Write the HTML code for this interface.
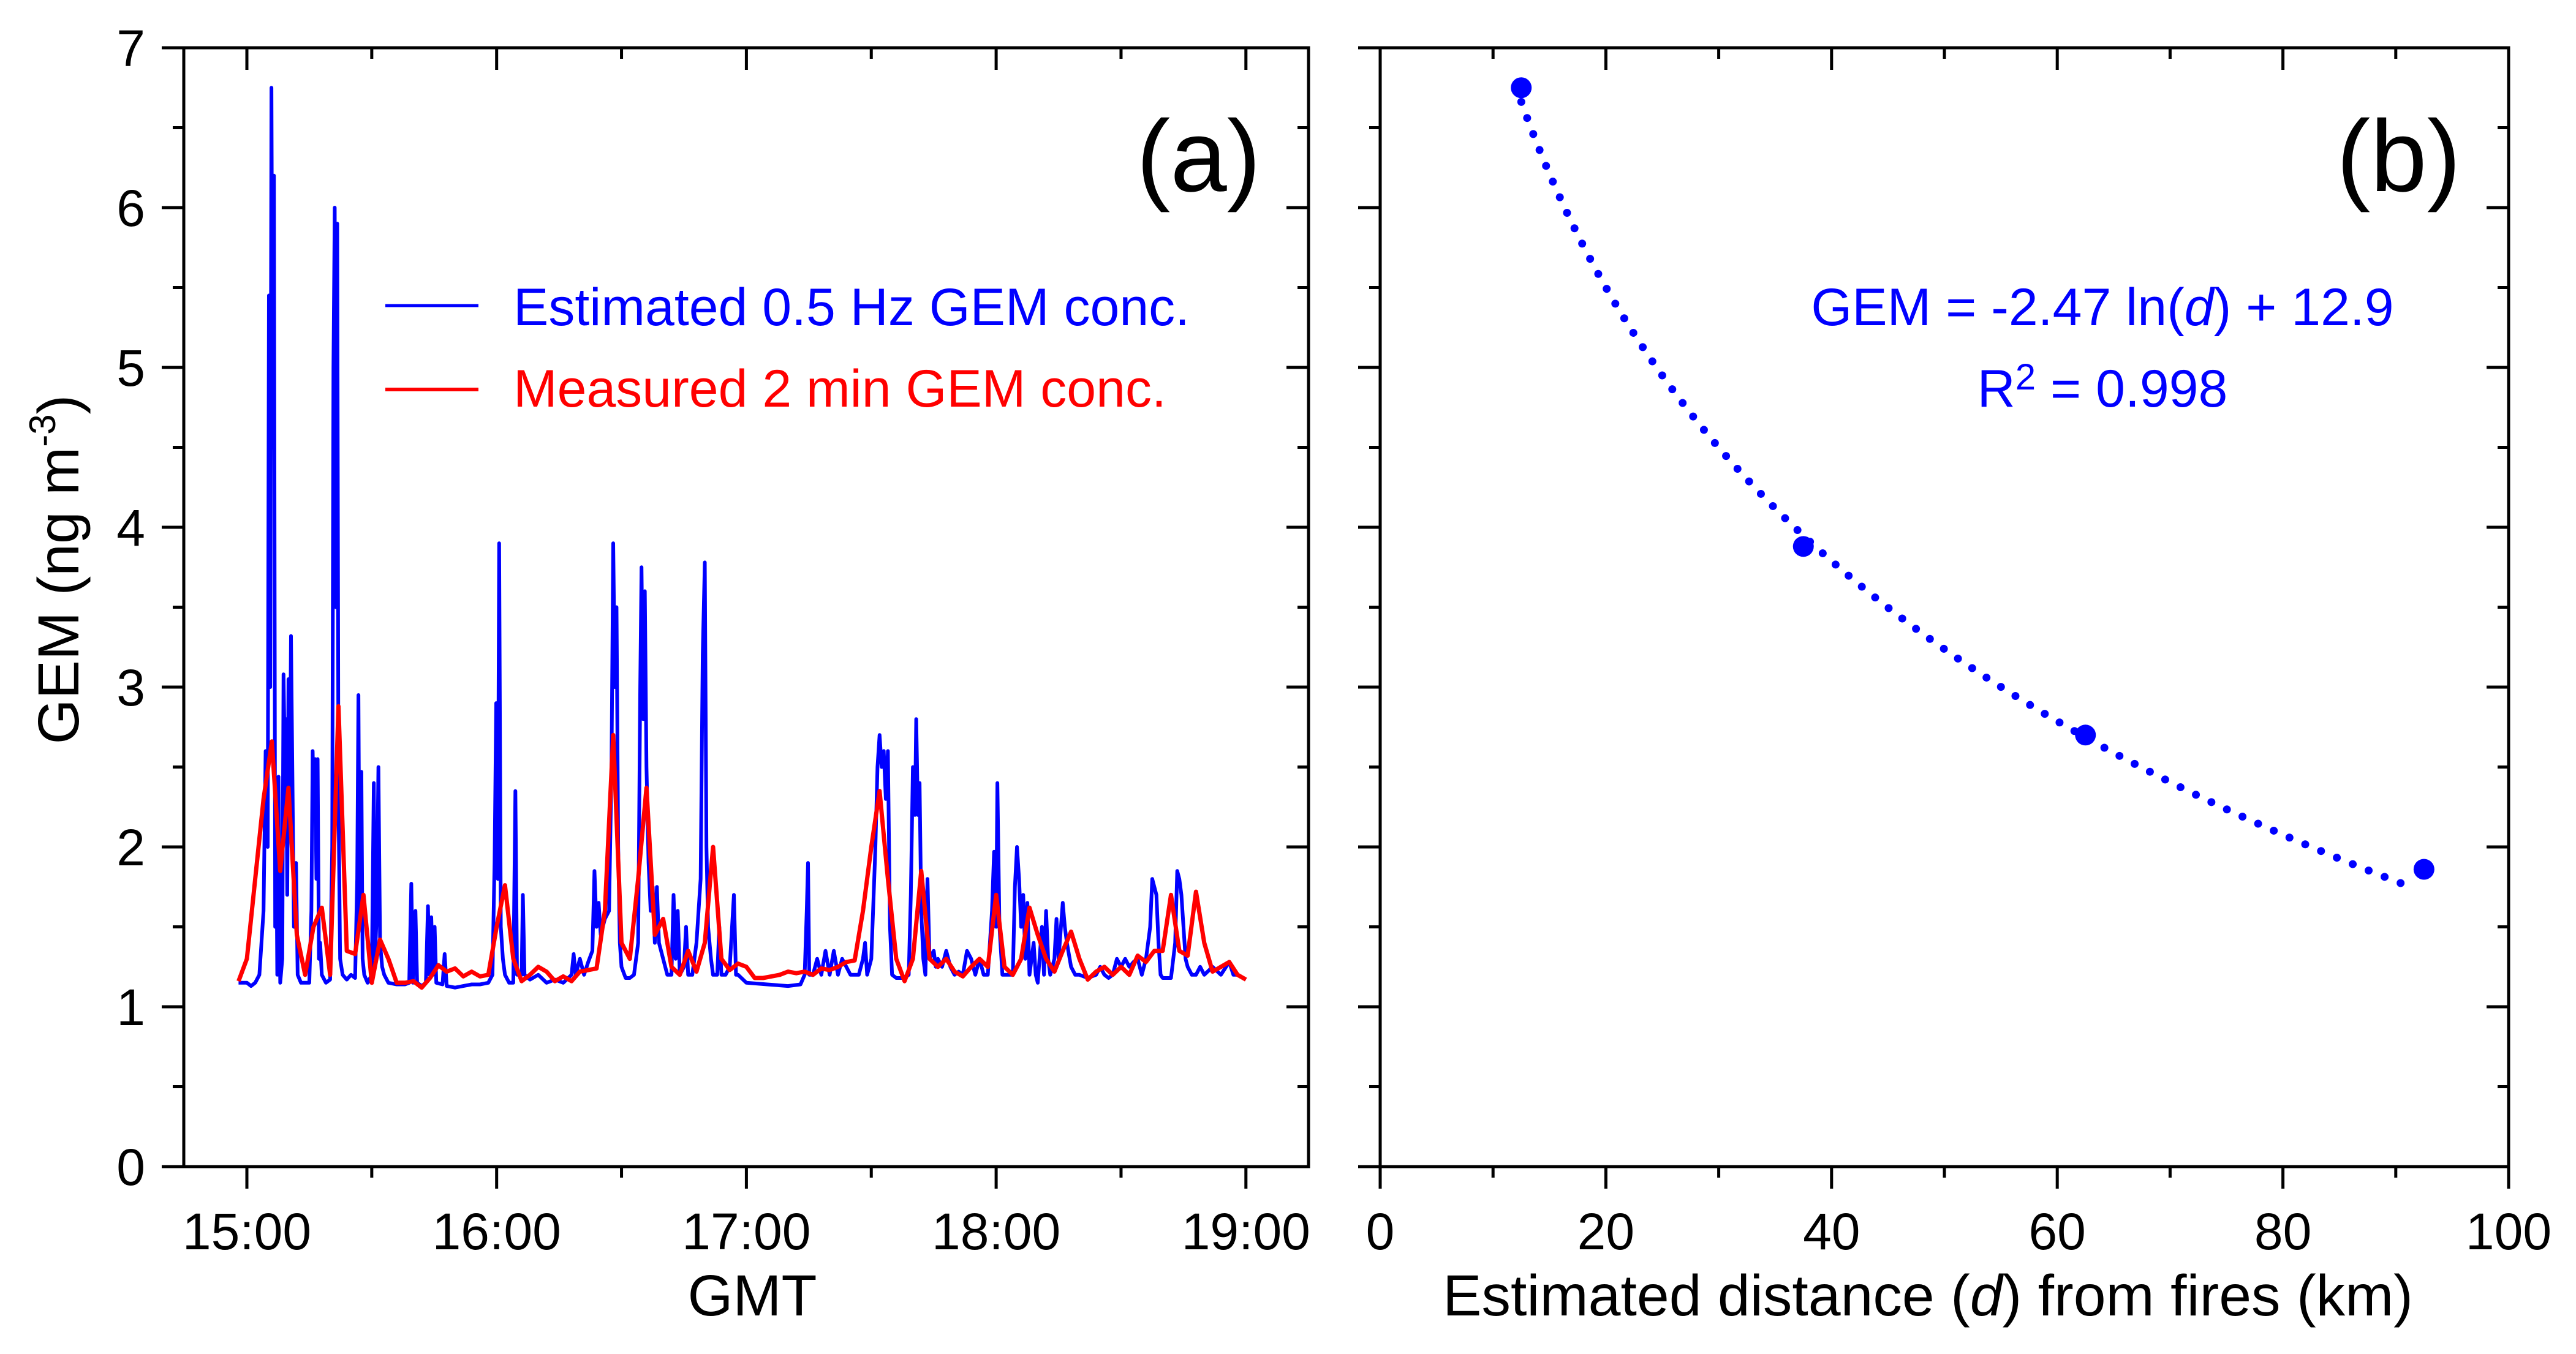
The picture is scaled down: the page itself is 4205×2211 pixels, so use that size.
<!DOCTYPE html>
<html><head><meta charset="utf-8"><title>GEM figure</title>
<style>html,body{margin:0;padding:0;background:#fff}svg{display:block}text{font-family:"Liberation Sans",Arial,sans-serif}</style>
</head><body>
<svg id="fig" xmlns="http://www.w3.org/2000/svg" width="4205" height="2211" viewBox="0 0 4205 2211">
<rect width="4205" height="2211" fill="#fff"/>
<defs><clipPath id="clipA"><rect x="300" y="78" width="1836" height="1827"/></clipPath></defs>
<g id="panelA"></g>
<g id="panelB"></g>
</svg>
<script>
// ---------- Panel (a) data ----------
const redT = [-2,0,2,4,6,8,10,12,14,16,18,20,22,24,26,28,30,32,34,36,38,40,42,44,46,48,50,52,54,56,58,60,62,64,66,68,70,72,74,76,78,80,82,84,86,88,90,92,94,96,98,100,102,104,106,108,110,112,114,116,118,120,122,124,126,128,130,132,134,136,138,140,142,144,146,148,150,152,154,156,158,160,162,164,166,168,170,172,174,176,178,180,182,184,186,188,190,192,194,196,198,200,202,204,206,208,210,212,214,216,218,220,222,224,226,228,230,232,234,236,238,240];
const redV = [1.16,1.3,1.8,2.3,2.66,1.85,2.37,1.45,1.2,1.5,1.62,1.2,2.88,1.35,1.33,1.7,1.15,1.42,1.3,1.15,1.15,1.16,1.12,1.18,1.26,1.22,1.24,1.19,1.22,1.19,1.2,1.5,1.76,1.3,1.16,1.2,1.25,1.22,1.16,1.19,1.16,1.22,1.23,1.24,1.6,2.7,1.4,1.3,1.8,2.37,1.45,1.55,1.25,1.2,1.35,1.22,1.4,2.0,1.3,1.23,1.27,1.25,1.18,1.18,1.19,1.2,1.22,1.21,1.22,1.2,1.24,1.23,1.25,1.28,1.29,1.6,2.0,2.35,1.8,1.3,1.16,1.3,1.85,1.3,1.25,1.3,1.22,1.19,1.25,1.3,1.25,1.7,1.25,1.2,1.3,1.62,1.45,1.3,1.22,1.35,1.47,1.3,1.17,1.22,1.25,1.2,1.25,1.2,1.32,1.28,1.35,1.35,1.7,1.35,1.32,1.72,1.4,1.22,1.25,1.28,1.2,1.17];
const blueT = [-2,0,1,2,3,3.5,4,4.5,5,5.3,5.6,5.9,6.2,6.5,6.8,7,7.3,7.6,8,8.5,8.8,9.1,9.4,9.7,10,10.3,10.6,11,11.3,11.8,12.2,13,14,15,15.5,15.8,16.1,16.4,16.7,17,17.3,17.6,18,19,20,20.5,20.8,21.1,21.4,21.7,22,22.4,23,24,25,26,26.5,26.8,27.1,27.5,27.8,28.2,29,30,30.5,30.8,31.2,31.6,32,32.5,33,34,36,38,39,39.5,39.9,40.5,40.9,42,43,43.5,43.9,44.3,44.7,45.1,45.5,47,47.5,48,50,52,54,56,58,59,59.5,59.9,60.3,60.6,61,61.5,62,63,64,64.5,64.9,66,66.3,66.7,68,70,72,74,76,78,78.5,79,80,81,82,83,83.5,84,84.5,85,86,87,87.6,88,88.4,88.8,89.2,89.6,90,91,92,93,94,94.5,94.8,95.2,95.6,96,96.5,97,97.5,98,98.5,99,100,101,102,102.5,103,103.5,104,105,105.5,106,107,108,109,109.5,110,110.4,110.8,111.5,112,113,113.5,114,115,116,117,117.5,118,120,125,130,133,134,134.5,134.8,135.1,136,137,138,139,140,141,142,143,145,147,148,148.5,149,150,151,151.5,152,152.5,153,153.5,154,154.5,155,156,158,159,159.5,160,160.5,160.8,161.2,161.6,162,162.5,163,163.5,164,165,165.5,166,167,168,169,170,171,172,173,174,175,176,177,178,179,179.5,180,180.3,180.8,181.5,183,184,184.5,185,185.5,186,186.5,187,187.5,188,189,189.5,190,191,191.5,192,192.5,193,194,194.5,195,196,196.5,197,198,199,200,202,204,205,206,207,208,209,210,211,212,213,214,215,216,217,217.5,218,218.5,219,219.5,220,222,223,223.5,224,224.5,225,225.5,226,227,228,229,230,232,234,236,237,238,240];
const blueV = [1.15,1.15,1.13,1.15,1.2,1.4,1.6,2.6,2.0,5.45,3.0,6.75,4.5,6.2,1.5,2.4,1.2,2.44,1.15,1.3,3.08,2.6,2.8,1.7,3.05,2.2,3.32,2.3,1.5,1.9,1.2,1.15,1.15,1.15,1.6,2.6,2.2,2.55,1.8,2.55,1.3,1.4,1.2,1.15,1.17,2.0,5.0,6.0,3.5,5.9,2.3,1.3,1.2,1.17,1.2,1.18,1.8,2.95,1.5,2.47,1.3,1.2,1.15,1.2,2.4,1.3,1.6,2.5,1.4,1.25,1.2,1.15,1.14,1.14,1.15,1.77,1.15,1.6,1.15,1.13,1.15,1.63,1.2,1.56,1.2,1.5,1.15,1.14,1.33,1.13,1.12,1.13,1.14,1.14,1.15,1.2,1.9,2.9,1.8,3.9,1.5,1.3,1.2,1.15,1.15,2.35,1.2,1.2,1.7,1.2,1.17,1.2,1.15,1.17,1.15,1.2,1.33,1.2,1.3,1.2,1.28,1.35,1.85,1.5,1.65,1.45,1.55,1.6,2.5,3.9,3.0,3.5,2.0,1.4,1.25,1.18,1.18,1.2,1.4,3.0,3.75,2.8,3.6,2.5,1.9,1.6,1.75,1.4,1.75,1.4,1.3,1.2,1.2,1.7,1.3,1.6,1.2,1.25,1.5,1.2,1.2,1.4,1.8,3.2,3.78,2.0,1.5,1.3,1.2,1.2,1.5,1.2,1.2,1.25,1.7,1.2,1.2,1.15,1.14,1.13,1.14,1.2,1.6,1.9,1.2,1.2,1.3,1.2,1.35,1.2,1.35,1.2,1.3,1.2,1.2,1.3,1.4,1.2,1.3,2.0,2.5,2.7,2.5,2.6,2.3,2.6,1.5,1.2,1.18,1.18,1.2,1.7,2.5,2.2,2.8,2.2,2.4,1.6,1.3,1.2,1.8,1.3,1.35,1.25,1.3,1.25,1.35,1.25,1.2,1.22,1.2,1.35,1.3,1.2,1.3,1.2,1.2,1.6,1.97,1.5,2.4,1.5,1.2,1.2,1.2,1.75,2.0,1.8,1.5,1.7,1.3,1.65,1.2,1.4,1.2,1.15,1.5,1.2,1.6,1.3,1.2,1.3,1.55,1.3,1.65,1.5,1.4,1.25,1.2,1.2,1.18,1.2,1.25,1.2,1.18,1.2,1.3,1.25,1.3,1.25,1.28,1.3,1.2,1.3,1.5,1.8,1.75,1.7,1.4,1.2,1.18,1.18,1.4,1.85,1.8,1.7,1.5,1.3,1.25,1.2,1.2,1.25,1.2,1.25,1.2,1.28,1.2,1.2,1.17];
const xTickLabelsA = ["15:00","16:00","17:00","18:00","19:00"];
const yTickLabels = ["0","1","2","3","4","5","6","7"];
// ---------- Panel (b) data ----------
const distKm = [12.5, 37.5, 62.5, 92.5];
const gemB = [6.75, 3.88, 2.70, 1.86];
const fitSlope = -2.47;
const fitIntercept = 12.9;
const xTickLabelsB = ["0","20","40","60","80","100"];

const NS = "http://www.w3.org/2000/svg";
function mk(tag, attrs, parent, txt){
  const e = document.createElementNS(NS, tag);
  for (const k in attrs) e.setAttribute(k, attrs[k]);
  if (txt !== undefined) e.textContent = txt;
  parent.appendChild(e); return e;
}
const Y0 = 1905, YU = 261.0;
function yv(v){ return Y0 - v*YU; }
const AX = {l:300, r:2136, t:78, b:1905};
function xa(min){ return 403 + min*6.795; }
const BX = {l:2253, r:4095, t:78, b:1905};
function xb(d){ return BX.l + d*(BX.r-BX.l)/100; }

const gA = document.getElementById('panelA');
const gB = document.getElementById('panelB');

function frame(g, P, xMajors, xMinors, labels, nameP){
  const fr = mk('rect',{x:P.l,y:P.t,width:P.r-P.l,height:P.b-P.t,fill:'none',stroke:'#000','stroke-width':5},g);
  
  
  for (let v=0; v<=7; v+=0.5){
    const L = (v%1===0)?36:18, y=yv(v);
    mk('line',{x1:P.l-L,y1:y,x2:P.l,y2:y,stroke:'#000','stroke-width':5},g);
    mk('line',{x1:P.r-L,y1:y,x2:P.r,y2:y,stroke:'#000','stroke-width':5},g);
  }
  xMajors.forEach((x,i)=>{
    mk('line',{x1:x,y1:P.b,x2:x,y2:P.b+36,stroke:'#000','stroke-width':5},g);
    mk('line',{x1:x,y1:P.t,x2:x,y2:P.t+36,stroke:'#000','stroke-width':5},g);
    const t = mk('text',{x:x,y:2040,'font-size':84,'text-anchor':'middle',fill:'#000'},g,labels[i]);
    
    
  });
  xMinors.forEach(x=>{
    mk('line',{x1:x,y1:P.b,x2:x,y2:P.b+18,stroke:'#000','stroke-width':5},g);
    mk('line',{x1:x,y1:P.t,x2:x,y2:P.t+18,stroke:'#000','stroke-width':5},g);
  });
}

// ---- Panel A ----
const majA = xTickLabelsA.map((s,i)=>xa(i*60));
const minA = xTickLabelsA.slice(0,-1).map((s,i)=>xa(i*60+30));
frame(gA, AX, majA, minA, xTickLabelsA, 'panel-a');
yTickLabels.forEach((s,i)=>{
  const t = mk('text',{x:237,y:yv(+s)+30,'font-size':84,'text-anchor':'end',fill:'#000'},gA,s);
  
  
});
const plotA = mk('g',{'clip-path':'url(#clipA)'},gA);
let dB = blueT.map((t,i)=>(i?'L':'M')+xa(t).toFixed(1)+' '+yv(blueV[i]).toFixed(1)).join(' ');
const blueLine = mk('path',{d:dB,fill:'none',stroke:'#0000ff','stroke-width':6,'stroke-linejoin':'round'},plotA);


let dR = redT.map((t,i)=>(i?'L':'M')+xa(t).toFixed(1)+' '+yv(redV[i]).toFixed(1)).join(' ');
const redLine = mk('path',{d:dR,fill:'none',stroke:'#ff0000','stroke-width':7,'stroke-linejoin':'round'},plotA);


const lg = mk('g',{},gA);


mk('line',{x1:629,y1:499,x2:781,y2:499,stroke:'#0000ff','stroke-width':5},lg);
const l1 = mk('text',{x:838,y:531,'font-size':86,fill:'#0000ff'},lg,'Estimated 0.5 Hz GEM conc.');


mk('line',{x1:629,y1:636,x2:781,y2:636,stroke:'#ff0000','stroke-width':6},lg);
const l2 = mk('text',{x:838,y:664,'font-size':86,fill:'#ff0000'},lg,'Measured 2 min GEM conc.');


const pa = mk('text',{x:2058,y:312,'font-size':166,'text-anchor':'end',fill:'#000'},gA,'(a)');


const gmt = mk('text',{x:1228,y:2148,'font-size':95,'text-anchor':'middle',fill:'#000'},gA,'GMT');


const yt = mk('text',{x:0,y:0,'font-size':95,'text-anchor':'middle',fill:'#000',transform:'translate(128,930) rotate(-90)'},gA);


yt.innerHTML = 'GEM (ng m<tspan font-size="60" dy="-38">-3</tspan><tspan dy="38">)</tspan>';

// ---- Panel B ----
const majB = xTickLabelsB.map(s=>xb(+s));
const minB = xTickLabelsB.slice(0,-1).map(s=>xb(+s+10));
frame(gB, BX, majB, minB, xTickLabelsB, 'panel-b');
let pts=[]; const d0=distKm[0], d1=distKm[distKm.length-1]-1;
for (let k=0;k<=200;k++){ const d=d0+(d1-d0)*k/200; pts.push((k?'L':'M')+xb(d).toFixed(1)+' '+yv(fitSlope*Math.log(d)+fitIntercept).toFixed(1)); }
const fit = mk('path',{d:pts.join(' '),fill:'none',stroke:'#0000ff','stroke-width':13,'stroke-linecap':'round','stroke-dasharray':'0 28'},gB);


distKm.forEach((d,i)=>{
  const c = mk('circle',{cx:xb(d),cy:yv(gemB[i]),r:17,fill:'#0000ff'},gB);
  
  
});
const eq = mk('text',{x:3432,y:531,'font-size':86,'text-anchor':'middle',fill:'#0000ff'},gB);


eq.innerHTML = 'GEM = -2.47 ln(<tspan font-style="italic">d</tspan>) + 12.9';
const r2 = mk('text',{x:3432,y:664,'font-size':86,'text-anchor':'middle',fill:'#0000ff'},gB);


r2.innerHTML = 'R<tspan font-size="60" dy="-28">2</tspan><tspan dy="28"> = 0.998</tspan>';
const pb = mk('text',{x:4017,y:312,'font-size':166,'text-anchor':'end',fill:'#000'},gB,'(b)');


const xtb = mk('text',{x:3147,y:2148,'font-size':95,'text-anchor':'middle',fill:'#000'},gB);


xtb.innerHTML = 'Estimated distance (<tspan font-style="italic">d</tspan>) from fires (km)';
</script>
</body></html>
